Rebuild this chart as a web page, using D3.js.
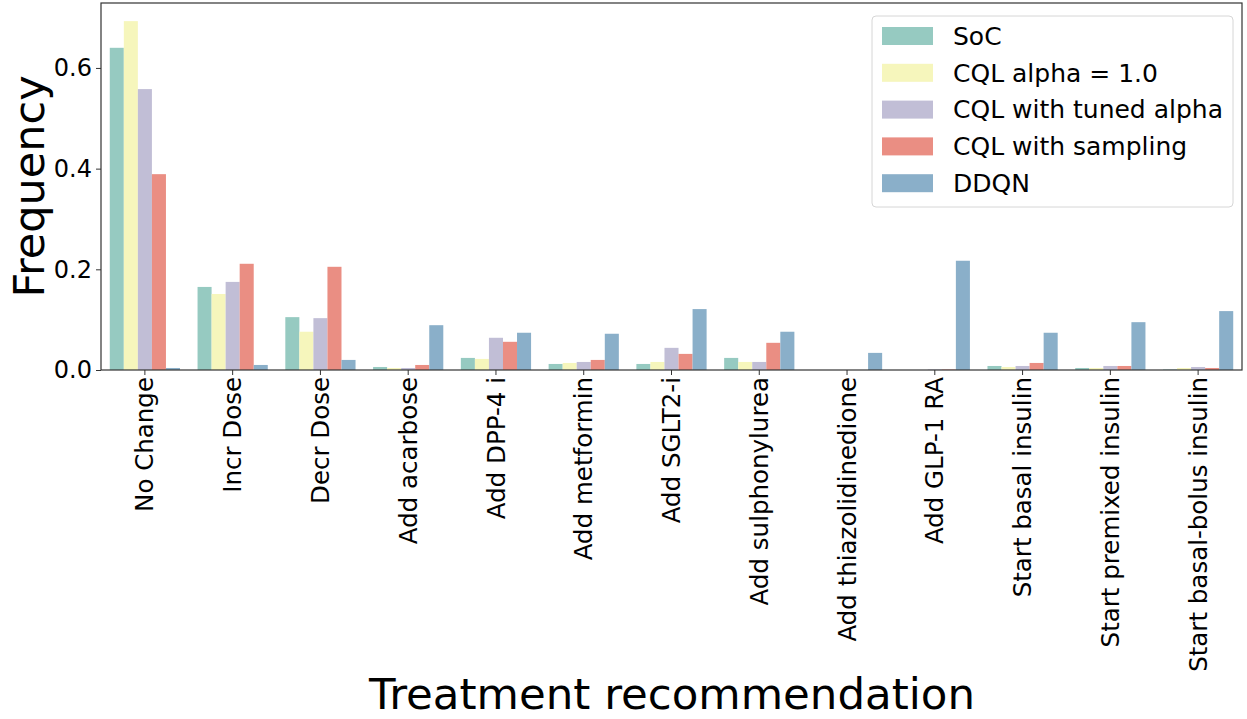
<!DOCTYPE html>
<html><head><meta charset="utf-8">
<script src="https://cdn.jsdelivr.net/npm/d3@7"></script>
<style>body{margin:0;background:#fff}svg{display:block}text{font-family:"DejaVu Sans",sans-serif;fill:#000}</style>
</head><body><svg id="c" width="1247" height="719"></svg>
<script>
const categories = ["No Change","Incr Dose","Decr Dose","Add acarbose","Add DPP-4 i","Add metformin","Add SGLT2-i","Add sulphonylurea","Add thiazolidinedione","Add GLP-1 RA","Start basal insulin","Start premixed insulin","Start basal-bolus insulin"];
const seriesNames = ["SoC","CQL alpha = 1.0","CQL with tuned alpha","CQL with sampling","DDQN"];
const soc      = [0.640,0.165,0.105,0.006,0.024,0.012,0.012,0.024,0.000,0.000,0.008,0.004,0.001];
const cqlAlpha = [0.693,0.151,0.076,0.004,0.022,0.014,0.016,0.016,0.000,0.000,0.006,0.004,0.004];
const cqlTuned = [0.558,0.175,0.103,0.004,0.064,0.016,0.044,0.016,0.000,0.001,0.008,0.008,0.006];
const cqlSamp  = [0.389,0.211,0.205,0.010,0.056,0.020,0.032,0.054,0.000,0.001,0.014,0.008,0.004];
const ddqn     = [0.004,0.010,0.020,0.089,0.074,0.072,0.121,0.076,0.034,0.217,0.074,0.095,0.117];
const yTicks = [0.0,0.2,0.4,0.6];
const colors = ["#96cac1","#f6f6bc","#c1bed6","#ea8e83","#8aafc9"];
const values = [soc,cqlAlpha,cqlTuned,cqlSamp,ddqn];

const svg = d3.select("#c");
const L=101, R=1242, T=3, B=370;
const x = d3.scaleBand().domain(categories).range([L,R]).paddingInner(0.2).paddingOuter(0.1);
const xs = d3.scaleBand().domain(seriesNames).range([0,x.bandwidth()]);
const y = d3.scaleLinear().domain([0,0.729]).range([B,T]);

seriesNames.forEach((s,si)=>{
  svg.append("g").selectAll("rect").data(categories).join("rect")
    .attr("x",c=>x(c)+xs(s)).attr("width",xs.bandwidth())
    .attr("y",(c,i)=>y(values[si][i])).attr("height",(c,i)=>B-y(values[si][i]))
    .attr("fill",colors[si]);
});

const ya = svg.append("g").attr("transform",`translate(${L},0)`).call(d3.axisLeft(y).tickValues(yTicks).tickFormat(d3.format(".1f")).tickSize(5).tickPadding(4));
ya.select(".domain").remove();
ya.selectAll("text").style("font-size","24px");
ya.selectAll("line").attr("stroke","#333");

const xa = svg.append("g").attr("transform",`translate(0,${B})`).call(d3.axisBottom(x).tickSize(5).tickPadding(6));
xa.select(".domain").remove();
xa.selectAll("line").attr("stroke","#333");
xa.selectAll("text").style("font-size","24.5px").attr("transform","rotate(-90)").attr("text-anchor","end").attr("dy","0.35em").attr("x",-7).attr("y",0);

svg.append("rect").attr("x",L).attr("y",T).attr("width",R-L).attr("height",B-T).attr("fill","none").attr("stroke","#333").attr("stroke-width",1.2);

svg.append("text").attr("transform",`translate(44,${(T+B)/2}) rotate(-90)`).attr("text-anchor","middle").style("font-size","43px").text("Frequency");
svg.append("text").attr("x",672).attr("y",709).attr("text-anchor","middle").style("font-size","43.5px").text("Treatment recommendation");

const lg = svg.append("g");
lg.append("rect").attr("x",872).attr("y",16).attr("width",361).attr("height",191).attr("rx",4).attr("fill","#fff").attr("fill-opacity",0.8).attr("stroke","#d6d6d6");
seriesNames.forEach((s,i)=>{
  const cy = 36 + i*36.8;
  lg.append("rect").attr("x",882).attr("y",cy-9).attr("width",51).attr("height",18).attr("fill",colors[i]);
  lg.append("text").attr("x",953).attr("y",cy).attr("dy","0.35em").style("font-size","25px").text(s);
});
</script></body></html>
